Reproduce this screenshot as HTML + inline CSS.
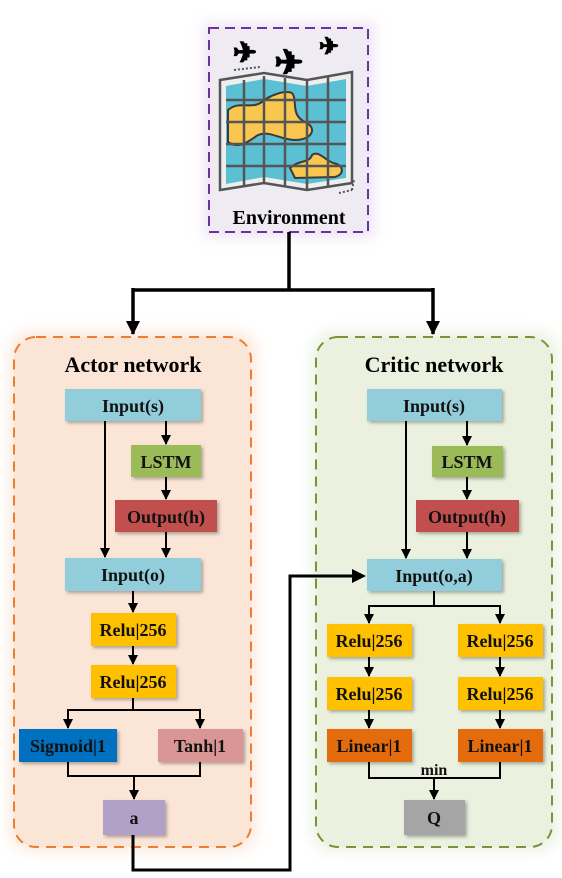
<!DOCTYPE html>
<html><head><meta charset="utf-8"><style>
html,body{margin:0;padding:0;background:#fff;}
svg{display:block}
text{font-family:"Liberation Serif",serif;font-weight:bold;}
</style></head><body>
<svg width="562" height="878" viewBox="0 0 562 878" xmlns="http://www.w3.org/2000/svg">
<defs>
<marker id="ar" markerWidth="10" markerHeight="10" refX="9" refY="5" orient="auto" markerUnits="userSpaceOnUse"><path d="M0,0 L10,5 L0,10 Z" fill="#000"/></marker>
<marker id="ab" markerWidth="14" markerHeight="14" refX="13" refY="7" orient="auto" markerUnits="userSpaceOnUse"><path d="M0,0 L14,7 L0,14 Z" fill="#000"/></marker>
<filter id="sh" x="-10%" y="-10%" width="130%" height="140%"><feDropShadow dx="2" dy="2" stdDeviation="1.5" flood-color="#000" flood-opacity="0.3"/></filter>
<filter id="gl" x="-10%" y="-10%" width="120%" height="120%"><feGaussianBlur stdDeviation="6"/></filter>
</defs>
<rect x="8" y="330" width="250" height="522" rx="24" fill="#f8d9c4" opacity="0.5" filter="url(#gl)"/>
<rect x="310" y="330" width="250" height="522" rx="24" fill="#dfe8cf" opacity="0.5" filter="url(#gl)"/>
<rect x="203" y="22" width="172" height="216" fill="#e4d8ef" opacity="0.6" filter="url(#gl)"/>
<rect x="209" y="28" width="159" height="204" fill="#efebf2" stroke="#7030a0" stroke-width="2" stroke-dasharray="10,6"/>
<polygon points="220,80 264,73 307,80 352,72 352,183 307,190 264,183 220,190" fill="#eeeeee" stroke="#555" stroke-width="2.5"/>
<polygon points="226,86 264,79 307,86 346,79 346,178 307,184 264,177 226,184" fill="#5bc0d3"/>
<path d="M228,110 C240,100 250,110 262,102 C270,95 285,90 292,93 C298,100 290,115 305,122 C318,128 312,140 295,140 C280,140 270,130 258,135 C250,140 240,150 228,142 Z" fill="#f9c74f" stroke="#3a3a3a" stroke-width="2"/>
<path d="M290,168 C298,160 310,163 312,155 C318,150 325,160 333,163 C345,165 344,175 335,177 L295,178 Z" fill="#f9c74f" stroke="#3a3a3a" stroke-width="2"/>
<g stroke="#555" stroke-width="2.5" fill="none">
<line x1="226" y1="100" x2="346" y2="100"/><line x1="226" y1="122" x2="346" y2="122"/><line x1="226" y1="144" x2="346" y2="144"/><line x1="226" y1="166" x2="346" y2="166"/>
<line x1="244" y1="80" x2="244" y2="186"/><line x1="264" y1="76" x2="264" y2="183"/><line x1="285" y1="78" x2="285" y2="186"/><line x1="307" y1="80" x2="307" y2="190"/><line x1="328" y1="77" x2="328" y2="186"/>
</g>
<g stroke="#555" stroke-width="2" stroke-dasharray="2,2"><line x1="234" y1="70" x2="260" y2="67"/><line x1="339" y1="193" x2="352" y2="190"/><line x1="352" y1="190" x2="354" y2="180"/></g>
<g fill="#000" stroke="#000" stroke-width="1" style="font-family:'DejaVu Sans',sans-serif;font-weight:bold" text-anchor="middle">
<text x="245" y="62" font-size="28">✈</text>
<text x="289" y="74" font-size="34">✈</text>
<text x="329" y="54" font-size="23">✈</text>
</g>
<text x="289" y="224" font-size="20" text-anchor="middle">Environment</text>
<g stroke="#000" stroke-width="3.5" fill="none">
<polyline points="289,232 289,290"/><polyline points="133,290 433,290"/>
<line x1="133" y1="288" x2="133" y2="334" marker-end="url(#ab)"/>
<line x1="433" y1="288" x2="433" y2="334" marker-end="url(#ab)"/>
</g>
<rect x="14" y="337" width="237" height="510" rx="22" fill="#fbe5d6" stroke="#ed7d31" stroke-width="2" stroke-dasharray="10,7"/>
<rect x="316" y="337" width="236" height="510" rx="22" fill="#ebf1de" stroke="#77933c" stroke-width="2" stroke-dasharray="10,7"/>
<text x="133" y="372" font-size="22" text-anchor="middle">Actor network</text>
<text x="434" y="372" font-size="22" text-anchor="middle">Critic network</text>
<g filter="url(#sh)">
<rect x="65" y="389" width="136" height="32" fill="#92cddc"/>
<rect x="131" y="445" width="70" height="32" fill="#9bbb59"/>
<rect x="115" y="500" width="102" height="32" fill="#c0504d"/>
<rect x="65" y="558" width="136" height="33" fill="#92cddc"/>
<rect x="91" y="613" width="85" height="33" fill="#ffc000"/>
<rect x="91" y="665" width="85" height="33" fill="#ffc000"/>
<rect x="19" y="729" width="98" height="33" fill="#0070c0"/>
<rect x="158" y="729" width="85" height="33" fill="#da9694"/>
<rect x="103" y="800" width="62" height="35" fill="#b1a0c7"/>
<rect x="367" y="389" width="135" height="32" fill="#92cddc"/>
<rect x="432" y="446" width="71" height="31" fill="#9bbb59"/>
<rect x="416" y="500" width="103" height="32" fill="#c0504d"/>
<rect x="367" y="559" width="135" height="32" fill="#92cddc"/>
<rect x="327" y="624" width="85" height="33" fill="#ffc000"/>
<rect x="458" y="624" width="85" height="33" fill="#ffc000"/>
<rect x="327" y="677" width="85" height="33" fill="#ffc000"/>
<rect x="458" y="677" width="85" height="33" fill="#ffc000"/>
<rect x="327" y="729" width="85" height="33" fill="#e46c0a"/>
<rect x="458" y="729" width="85" height="33" fill="#e46c0a"/>
<rect x="404" y="800" width="61" height="35" fill="#a5a5a5"/>
</g>
<g font-size="18" text-anchor="middle" fill="#111">
<text x="133" y="412">Input(s)</text>
<text x="166" y="468">LSTM</text>
<text x="166" y="523">Output(h)</text>
<text x="133" y="581">Input(o)</text>
<text x="133" y="636">Relu|256</text>
<text x="133" y="688">Relu|256</text>
<text x="68" y="752">Sigmoid|1</text>
<text x="200" y="752">Tanh|1</text>
<text x="134" y="824">a</text>
<text x="434" y="412">Input(s)</text>
<text x="467" y="468">LSTM</text>
<text x="467" y="523">Output(h)</text>
<text x="434" y="582">Input(o,a)</text>
<text x="369" y="647">Relu|256</text>
<text x="500" y="647">Relu|256</text>
<text x="369" y="700">Relu|256</text>
<text x="500" y="700">Relu|256</text>
<text x="369" y="752">Linear|1</text>
<text x="500" y="752">Linear|1</text>
<text x="434" y="824">Q</text>
<text x="434" y="775" font-size="16">min</text>
</g>
<g stroke="#000" stroke-width="2" fill="none">
<line x1="105" y1="421" x2="105" y2="557" marker-end="url(#ar)"/>
<line x1="166" y1="421" x2="166" y2="444" marker-end="url(#ar)"/>
<line x1="166" y1="477" x2="166" y2="499" marker-end="url(#ar)"/>
<line x1="166" y1="532" x2="166" y2="557" marker-end="url(#ar)"/>
<line x1="133" y1="591" x2="133" y2="612" marker-end="url(#ar)"/>
<line x1="133" y1="646" x2="133" y2="664" marker-end="url(#ar)"/>
<polyline points="133,698 133,710 68,710 68,728" marker-end="url(#ar)"/>
<polyline points="133,710 200,710 200,728" marker-end="url(#ar)"/>
<polyline points="68,762 68,776 200,776 200,762"/>
<line x1="134" y1="776" x2="134" y2="799" marker-end="url(#ar)"/>
<line x1="406" y1="421" x2="406" y2="558" marker-end="url(#ar)"/>
<line x1="467" y1="421" x2="467" y2="445" marker-end="url(#ar)"/>
<line x1="467" y1="477" x2="467" y2="499" marker-end="url(#ar)"/>
<line x1="467" y1="532" x2="467" y2="558" marker-end="url(#ar)"/>
<polyline points="434,591 434,606 369,606 369,623" marker-end="url(#ar)"/>
<polyline points="434,606 500,606 500,623" marker-end="url(#ar)"/>
<line x1="369" y1="657" x2="369" y2="676" marker-end="url(#ar)"/>
<line x1="500" y1="657" x2="500" y2="676" marker-end="url(#ar)"/>
<line x1="369" y1="710" x2="369" y2="728" marker-end="url(#ar)"/>
<line x1="500" y1="710" x2="500" y2="728" marker-end="url(#ar)"/>
<polyline points="369,762 369,778 500,778 500,762"/>
<line x1="434" y1="778" x2="434" y2="799" marker-end="url(#ar)"/>
</g>
<g stroke="#000" stroke-width="3" fill="none">
<polyline points="133,835 133,870 290,870 290,576 352,576"/>
</g>
<path d="M352,569 L366,576 L352,583 Z" fill="#000"/>
</svg>
</body></html>
